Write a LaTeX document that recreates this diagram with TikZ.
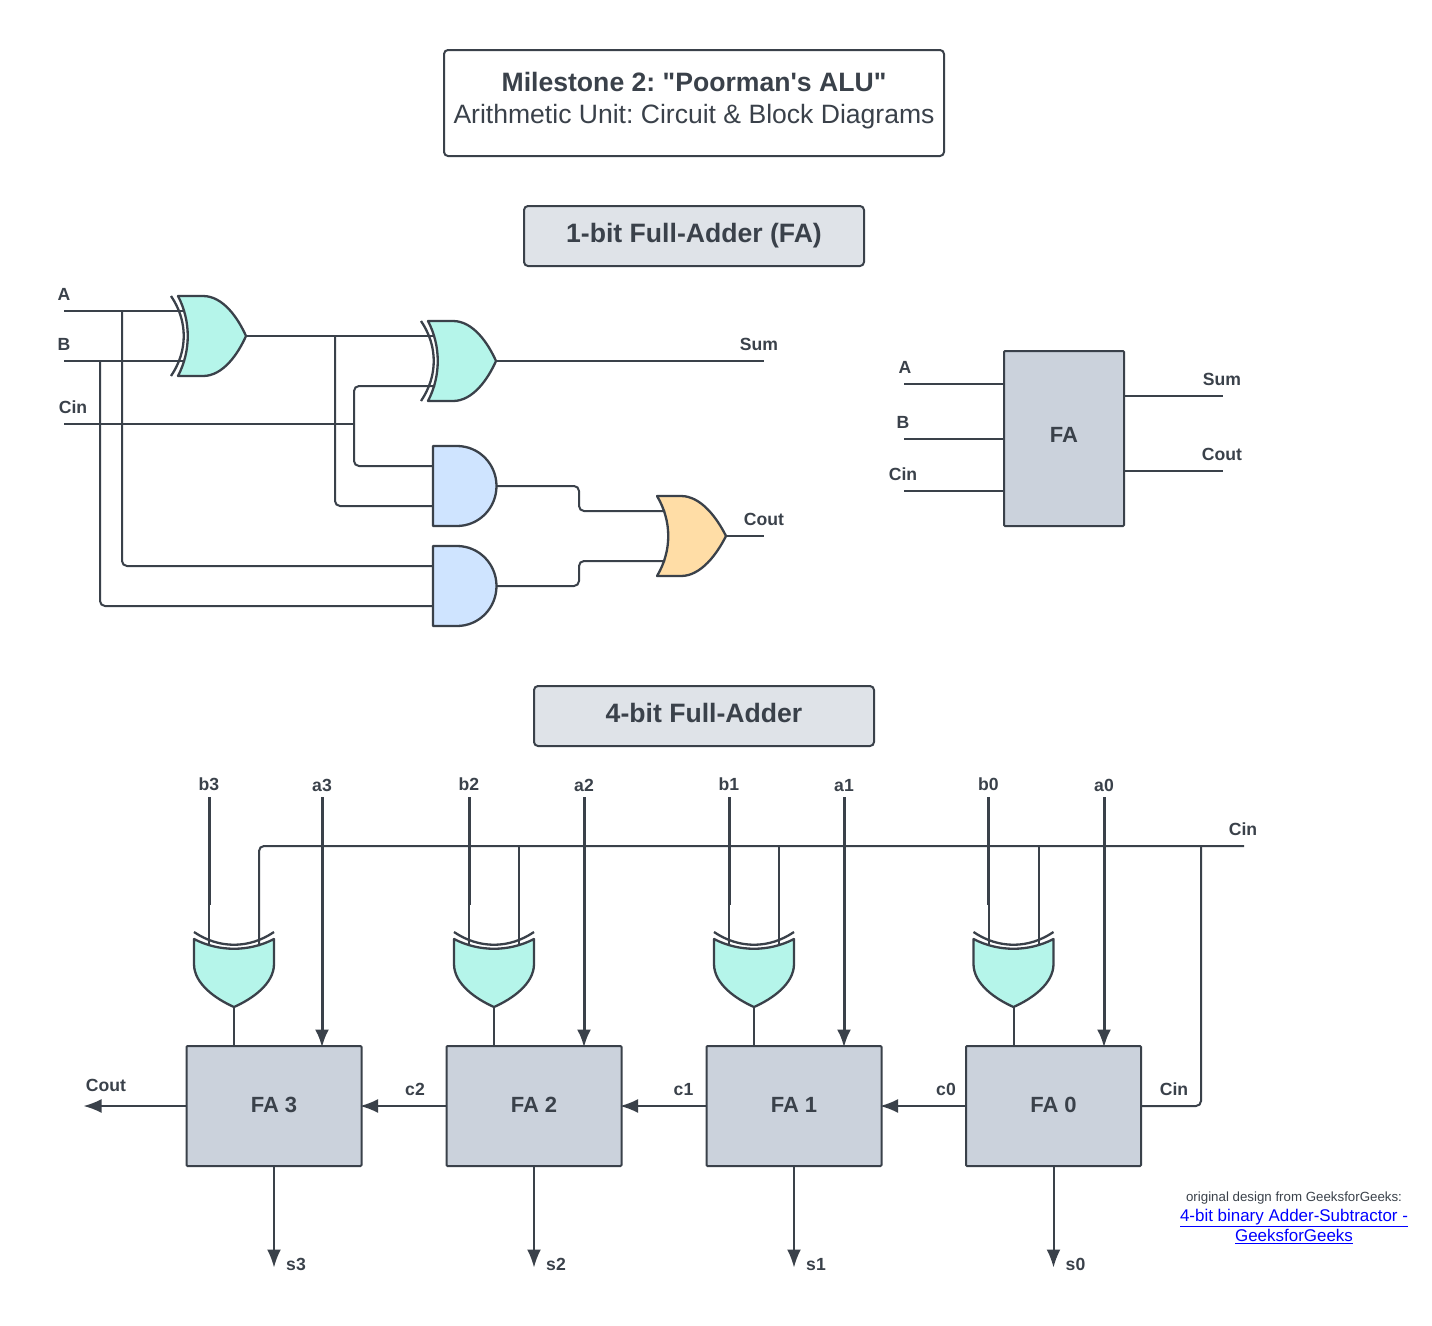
\documentclass[tikz,border=0pt]{standalone}
\usepackage{fontspec}
\setmainfont{Liberation Sans}
\newfontfamily\plainquote{Liberation Sans}
\usetikzlibrary{arrows.meta}
\definecolor{ink}{HTML}{3A414A}
\definecolor{xorfill}{HTML}{B5F5EA}
\definecolor{andfill}{HTML}{CFE4FF}
\definecolor{orfill}{HTML}{FFDDA6}
\definecolor{blockfill}{HTML}{CBD2DC}
\definecolor{headfill}{HTML}{DFE3E8}
\tikzset{
    wire/.style={draw=ink,line width=2pt},
    elbow/.style={wire,rounded corners=5pt},
    bus/.style={draw=ink,line width=3pt},
    flow/.style={wire,-{Latex[length=18pt,width=14pt]},shorten >=-1.5pt},
    busflow/.style={bus,-{Latex[length=18pt,width=14pt]},shorten >=-1.5pt},
    gateline/.style={draw=ink,line width=2.3pt,line join=round},
    sig/.style={text=ink,font=\fontsize{17.6}{20}\bfseries\selectfont,inner sep=0pt},
    headbox/.style={draw=ink,line width=2pt,fill=headfill,rounded corners=4pt,minimum width=340pt,minimum height=60pt,text=ink,font=\fontsize{26.6}{32}\bfseries\selectfont,inner sep=0pt,text height=19.5pt,text depth=5.7pt},
    blockbox/.style={draw=ink,line width=2pt,fill=blockfill,rounded corners=1pt,text=ink,font=\fontsize{22}{26}\bfseries\selectfont,inner sep=0pt,outer sep=0pt,text height=16pt,text depth=3pt},
    xorgate/.pic={
        \path [gateline,fill=xorfill] (0,-40) -- (25,-40) .. controls (45,-40) and (60,-18) .. (68,0)
            .. controls (60,18) and (45,40) .. (25,40) -- (0,40) .. controls (13,15) and (13,-15) .. (0,-40) -- cycle;
        \path [gateline] (-7,-40) .. controls (10,-15) and (10,15) .. (-7,40);
        \coordinate (-in1) at (7,-25);
        \coordinate (-in2) at (7,25);
        \coordinate (-out) at (68,0);
    },
    orgate/.pic={
        \path [gateline,fill=orfill] (0,-40) -- (24,-40) .. controls (44,-40) and (60,-18) .. (69,0)
            .. controls (60,18) and (44,40) .. (24,40) -- (0,40) .. controls (15,15) and (15,-15) .. (0,-40) -- cycle;
        \coordinate (-in1) at (8,-25);
        \coordinate (-in2) at (8,25);
        \coordinate (-out) at (69,0);
    },
    andgate/.pic={
        \path [gateline,fill=andfill] (0,-40) -- (24,-40) .. controls (46,-40) and (63.5,-22) .. (63.5,0)
            .. controls (63.5,22) and (46,40) .. (24,40) -- (0,40) -- cycle;
        \coordinate (-in1) at (0,-20);
        \coordinate (-in2) at (0,20);
        \coordinate (-out) at (63.5,0);
    },
}
\begin{document}
\frenchspacing
\begin{tikzpicture}[x=1pt,y=-1pt]
    \useasboundingbox (0,0) rectangle (1432,1325);

    \node (titleBox) at (694,103) [draw=ink,line width=2pt,rounded corners=4pt,minimum width=500pt,minimum height=106pt,inner sep=0pt] {};
    \node (title) at (694,101) [align=center,text=ink,inner sep=0pt,font=\plainquote\fontsize{26.55}{32}\selectfont] {{\bfseries\fontsize{26.6}{32}\selectfont Milestone 2: "Poorman's ALU"}\\Arithmetic Unit: Circuit \& Block Diagrams};
    \node (headOne) at (694,236) [headbox] {1-bit Full-Adder (FA)};
    \node (headFour) at (704,716) [headbox] {4-bit Full-Adder};

    \pic (xorA) at (178,336) {xorgate};
    \pic (xorB) at (428,361) {xorgate};
    \pic (andA) at (433,486) {andgate};
    \pic (andB) at (433,586) {andgate};
    \pic (orC) at (657,536) {orgate};

    \node (lblA) at (64,294.5) [sig] {A};
    \node (lblB) at (64,344.5) [sig] {B};
    \node (lblCin) at (73,407) [sig] {Cin};
    \node (lblSum) at (759,344.5) [sig] {Sum};
    \node (lblCout) at (764,519.5) [sig] {Cout};

    \coordinate (inA) at (64,311);
    \coordinate (inB) at (64,361);
    \coordinate (inCin) at (64,424);
    \coordinate (tapA) at (122,311);
    \coordinate (tapB) at (100,361);
    \coordinate (tapCin) at (354,424);
    \coordinate (tapX) at (335,336);
    \coordinate (outSum) at (764,361);
    \coordinate (outCout) at (764,536);

    \draw [wire] (inA) -- (xorA-in1);
    \draw [wire] (inB) -- (xorA-in2);
    \draw [wire] (inCin) -- (tapCin);
    \draw [wire] (xorA-out) -- (xorB-in1);
    \draw [wire] (xorB-out) -- (outSum);
    \draw [wire] (orC-out) -- (outCout);
    \draw [elbow] (tapCin) |- (xorB-in2);
    \draw [elbow] (tapCin) |- (andA-in1);
    \draw [elbow] (tapX) |- (andA-in2);
    \draw [elbow] (tapA) |- (andB-in1);
    \draw [elbow] (tapB) |- (andB-in2);
    \draw [elbow] (andA-out) -- (579,486) -- (579,511) -- (orC-in1);
    \draw [elbow] (andB-out) -- (579,586) -- (579,561) -- (orC-in2);

    \node (fa) at (1064,438.5) [blockbox,minimum width=120pt,minimum height=175pt,text depth=8pt] {FA};
    \node (lblFaA) at (905,367.5) [sig] {A};
    \node (lblFaB) at (903,422.5) [sig] {B};
    \node (lblFaCin) at (903,474) [sig] {Cin};
    \node (lblFaSum) at (1222,379.5) [sig] {Sum};
    \node (lblFaCout) at (1222,454.5) [sig] {Cout};
    \coordinate (faA) at (904,384);
    \coordinate (faB) at (904,439);
    \coordinate (faCin) at (904,491);
    \coordinate (faSum) at (1223,396);
    \coordinate (faCout) at (1223,471);
    \draw [wire] (faA) -- (faA -| fa.west);
    \draw [wire] (faB) -- (faB -| fa.west);
    \draw [wire] (faCin) -- (faCin -| fa.west);
    \draw [wire] (faSum -| fa.east) -- (faSum);
    \draw [wire] (faCout -| fa.east) -- (faCout);

    \coordinate (rail) at (1244,846);
    \coordinate (railDrop) at (1201,846);
    \node (lblRail) at (1243,829) [sig] {Cin};

    \foreach \i/\x/\ax in {3/274/322,2/534/584,1/794/844,0/1053.5/1104} {
        \node (add\i) at (\x,1106) [blockbox,minimum width=175pt,minimum height=120pt] {FA \i};
        \pic [rotate=-90] (xg\i) at (\x-40,939) {xorgate};
        \node (lblb\i) at (\x-65,784) [sig] {b\i};
        \node (lbla\i) at (\ax,785.5) [sig] {a\i};
        \node (lbls\i) at (\x+22,1264.5) [sig] {s\i};
        \coordinate (topb\i) at (\x-65,797);
        \coordinate (midb\i) at (\x-65,905);
        \coordinate (topa\i) at (\ax,797);
        \coordinate (ends\i) at (\x,1266);
        \draw [bus] (topb\i) -- (midb\i);
        \draw [wire] (midb\i) -- (xg\i-in2);
        \draw [busflow] (topa\i) -- (topa\i |- add\i.north);
        \draw [wire] (xg\i-out) -- (xg\i-out |- add\i.north);
        \draw [flow] (add\i.south) -- (ends\i);
    }

    \draw [elbow] (rail) -| (xg3-in1);
    \draw [wire] (xg2-in1 |- rail) -- (xg2-in1);
    \draw [wire] (xg1-in1 |- rail) -- (xg1-in1);
    \draw [wire] (xg0-in1 |- rail) -- (xg0-in1);
    \draw [elbow] (railDrop) |- (add0.east);

    \foreach \a/\b in {0/1,1/2,2/3} {
        \draw [flow] (add\a.west) -- (add\b.east);
    }
    \coordinate (endCout) at (85,1106);
    \draw [flow] (add3.west) -- (endCout);

    \node (lblc2) at (415,1089.5) [sig] {c2};
    \node (lblc1) at (683.5,1089.5) [sig] {c1};
    \node (lblc0) at (946,1089.5) [sig] {c0};
    \node (lblAddCin) at (1174,1089) [sig] {Cin};
    \node (lblAddCout) at (106,1085.5) [sig] {Cout};

    \node (noteA) at (1294,1198) [inner sep=0pt,text=ink,font=\fontsize{13.3}{16}\selectfont] {original design from GeeksforGeeks:};
    \node (noteB) at (1294,1218) [inner sep=0pt,text=blue,font=\fontsize{16.95}{20}\selectfont] {\underline{4-bit binary Adder-Subtractor -}};
    \node (noteC) at (1294,1236.5) [inner sep=0pt,text=blue,font=\fontsize{16.95}{20}\selectfont] {\underline{GeeksforGeeks}};
\end{tikzpicture}
\end{document}
